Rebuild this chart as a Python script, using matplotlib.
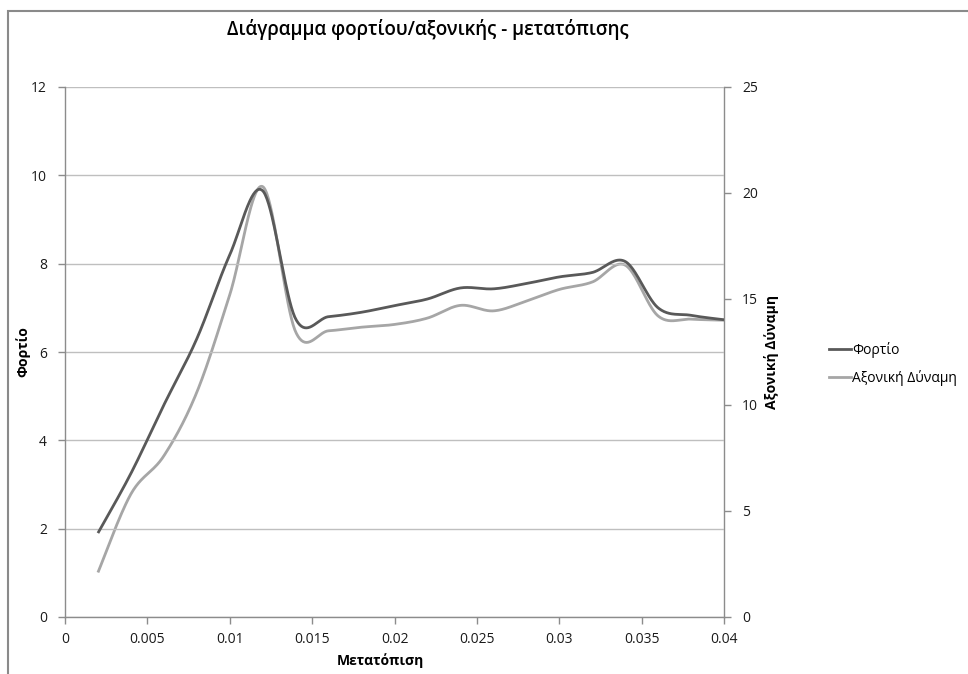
import numpy as np
import matplotlib
matplotlib.use("Agg")
import matplotlib.pyplot as plt
from matplotlib.patches import Rectangle
from matplotlib.lines import Line2D

# Displacement (m)
displacement = [0.002, 0.004, 0.006, 0.008, 0.010, 0.012, 0.014, 0.016, 0.018, 0.020,
                0.022, 0.024, 0.026, 0.028, 0.030, 0.032, 0.034, 0.036, 0.038, 0.040]
# Load (left axis)
load = [1.9, 3.25, 4.8, 6.3, 8.2, 9.65, 6.75, 6.8, 6.9, 7.05,
        7.2, 7.45, 7.43, 7.55, 7.7, 7.8, 8.05, 7.0, 6.83, 6.73]
# Axial force (right axis)
axial = [2.1, 5.8, 7.6, 10.6, 15.2, 20.3, 13.45, 13.5, 13.67, 13.8,
         14.1, 14.7, 14.44, 14.9, 15.45, 15.8, 16.6, 14.2, 14.05, 14.0]

left_ticks = [0, 2, 4, 6, 8, 10, 12]
right_ticks = [0, 5, 10, 15, 20, 25]
x_ticks = [0, 0.005, 0.01, 0.015, 0.02, 0.025, 0.03, 0.035, 0.04]
x_ticklabels = ["0", "0.005", "0.01", "0.015", "0.02", "0.025", "0.03", "0.035", "0.04"]

title = "Διάγραμμα φορτίου/αξονικής - μετατόπισης"
series_names = ["Φορτίο", "Αξονική Δύναμη"]
x_label = "Μετατόπιση"

DARK = "#595959"
LIGHT = "#a6a6a6"
AXIS = "#8c8c8c"
GRID = "#bfbfbf"

plt.rcParams['font.family'] = ['Open Sans', 'DejaVu Sans']


def smooth(x, y, n=40):
    """Bezier smoothing with control points at 1/6 of neighbour spans."""
    p = np.column_stack([x, y]).astype(float)
    ext = np.vstack([p[0], p, p[-1]])
    t = np.linspace(0, 1, n)[:, None]
    out = []
    for i in range(1, len(ext) - 2):
        p0, p1, p2, p3 = ext[i - 1], ext[i], ext[i + 1], ext[i + 2]
        c1 = p1 + (p2 - p0) / 6.0
        c2 = p2 - (p3 - p1) / 6.0
        seg = ((1 - t) ** 3) * p1 + 3 * ((1 - t) ** 2) * t * c1 + 3 * (1 - t) * t ** 2 * c2 + t ** 3 * p2
        out.append(seg if i == 1 else seg[1:])
    seg = np.vstack(out)
    return seg[:, 0], seg[:, 1]


fig = plt.figure(figsize=(9.68, 6.74), dpi=100)

# chart frame
fig.patches.append(Rectangle((8 / 968, -0.05), 1.2, 1 - 10.5 / 674 + 0.05,
                             transform=fig.transFigure, fill=False,
                             edgecolor="#8a8a8a", linewidth=1.5, zorder=0))

ax = fig.add_axes([65 / 968, 1 - 617 / 674, (724 - 65) / 968, (617 - 87) / 674])
ax2 = ax.twinx()

ax.set_xlim(0, 0.04)
ax.set_ylim(0, 12)
ax2.set_ylim(0, 25)

ax.set_yticks(left_ticks)
ax.set_yticklabels([str(v) for v in left_ticks])
ax2.set_yticks(right_ticks)
ax2.set_yticklabels([str(v) for v in right_ticks])
ax.set_xticks(x_ticks)
ax.set_xticklabels(x_ticklabels)

for a in (ax, ax2):
    for s in a.spines.values():
        s.set_visible(False)
    a.tick_params(length=5, width=1, color=AXIS, labelsize=10, labelcolor="#1a1a1a", pad=8)

ax.spines['left'].set_visible(True)
ax.spines['bottom'].set_visible(True)
ax2.spines['right'].set_visible(True)
for s in (ax.spines['left'], ax.spines['bottom'], ax2.spines['right']):
    s.set_color(AXIS)
    s.set_linewidth(1)
ax.tick_params(axis='x', pad=6)

ax.yaxis.grid(True, color=GRID, linewidth=1)
ax.set_axisbelow(True)

xs, ys = smooth(displacement, load)
ax.plot(xs, ys, color=DARK, linewidth=2.0, solid_capstyle='butt', zorder=3)
xs2, ys2 = smooth(displacement, axial)
ax2.plot(xs2, ys2, color=LIGHT, linewidth=2.0, solid_capstyle='butt', zorder=2)
ax.set_zorder(ax2.get_zorder() + 1)
ax.patch.set_visible(False)

ax.set_xlabel(x_label, fontsize=10, fontweight='bold')
ax.xaxis.set_label_coords((380 - 65) / 659, (617 - 653) / 530)
ax.set_ylabel(series_names[0], fontsize=10, fontweight='bold')
ax.yaxis.set_label_coords((30 - 65) / 659, (617 - 352) / 530)
ax2.set_ylabel(series_names[1], fontsize=10, fontweight='bold', rotation=90)
ax2.yaxis.set_label_coords((764 - 65) / 659, (617 - 352) / 530)

fig.text(428 / 968, 1 - 30 / 674, title, ha='center', va='center',
         fontsize=13.5, fontweight='semibold')

handles = [Line2D([], [], color=DARK, linewidth=2.0),
           Line2D([], [], color=LIGHT, linewidth=2.0)]
fig.legend(handles, series_names, loc='center left',
           bbox_to_anchor=(816 / 968, 1 - 364 / 674), frameon=False,
           fontsize=10, handlelength=1.6, handletextpad=0.1, labelspacing=0.9)

fig.savefig("out.png", dpi=100)
